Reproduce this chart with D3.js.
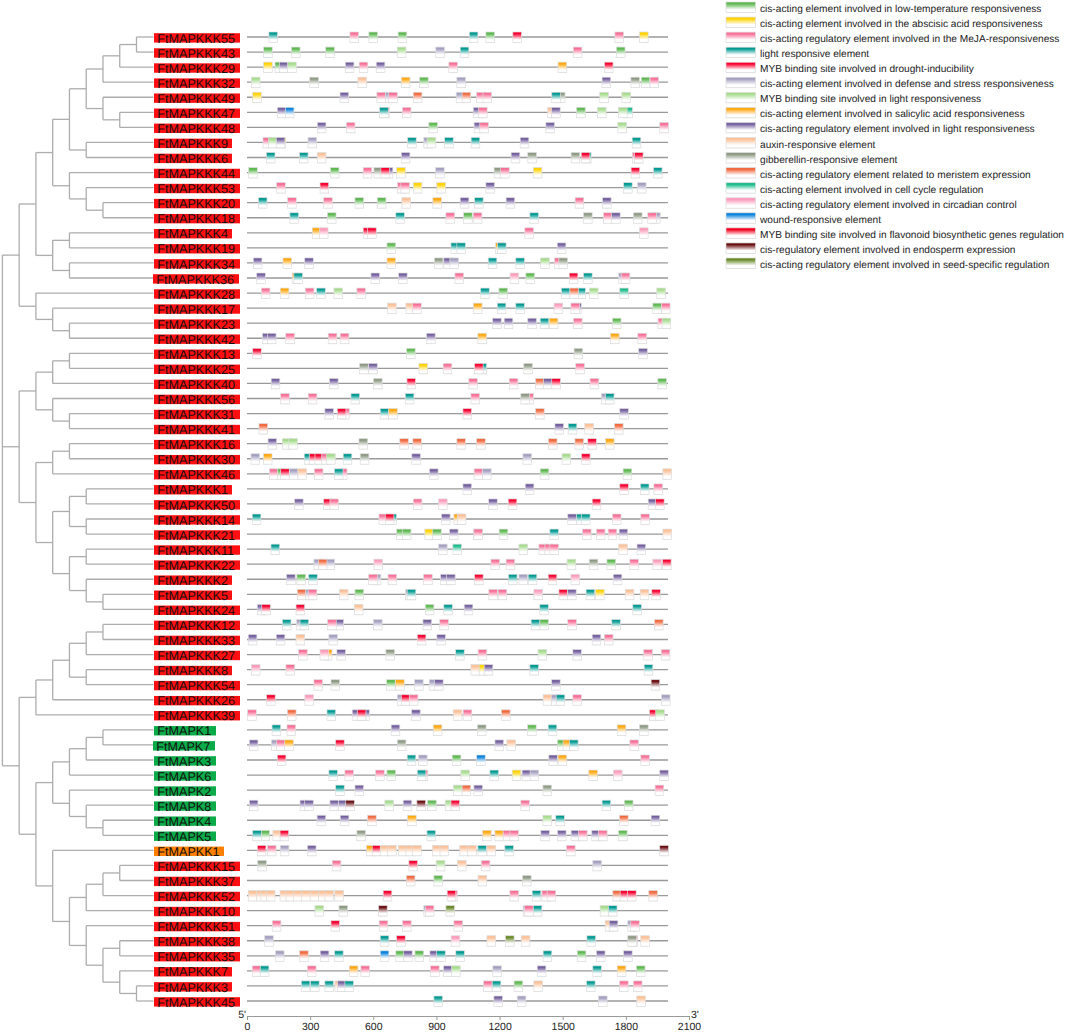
<!DOCTYPE html>
<html>
<head>
<meta charset="utf-8">
<script src="https://cdn.jsdelivr.net/npm/d3@7"></script>
<style>
  html, body { margin: 0; padding: 0; background: #fff; }
  svg { display: block; font-family: "Liberation Sans", Arial, sans-serif; text-rendering: geometricPrecision; }
</style>
</head>
<body>
<svg id="chart" width="1065" height="1032"></svg>
<script>
var elementNames = [
  "cis-acting element involved in low-temperature responsiveness",
  "cis-acting element involved in the abscisic acid responsiveness",
  "cis-acting regulatory element involved in the MeJA-responsiveness",
  "light responsive element",
  "MYB binding site involved in drought-inducibility",
  "cis-acting element involved in defense and stress responsiveness",
  "MYB binding site involved in light responsiveness",
  "cis-acting element involved in salicylic acid responsiveness",
  "cis-acting regulatory element involved in light responsiveness",
  "auxin-responsive element",
  "gibberellin-responsive element",
  "cis-acting regulatory element related to meristem expression",
  "cis-acting element involved in cell cycle regulation",
  "cis-acting regulatory element involved in circadian control",
  "wound-responsive element",
  "MYB binding site involved in flavonoid biosynthetic genes regulation",
  "cis-regulatory element involved in endosperm expression",
  "cis-acting regulatory element involved in seed-specific regulation"
];
var elementColors = ["#5cb84f", "#ffd200", "#f86f97", "#009a92", "#f7002f", "#a39fc0", "#a5dc8c", "#ffa70f", "#75609f",
  "#fcc097", "#8e9a84", "#f1693f", "#1cba8a", "#fc9bba", "#0a82dc", "#f2001c", "#6a0f12", "#6a8a2a"];

// tree topology, rows come out in the same order as genes
var tree = [
  [[[[[[[["FtMAPKKK55", "FtMAPKKK43"], "FtMAPKKK29"], "FtMAPKKK32"],
       ["FtMAPKKK49", ["FtMAPKKK47", "FtMAPKKK48"]]],
      ["FtMAPKKK9", "FtMAPKKK6"]],
     ["FtMAPKKK44", ["FtMAPKKK53", ["FtMAPKKK20", "FtMAPKKK18"]]]],
    [["FtMAPKKK4", "FtMAPKKK19"], ["FtMAPKKK34", "FtMAPKKK36"]]],
   ["FtMAPKKK28", ["FtMAPKKK17", ["FtMAPKKK23", "FtMAPKKK42"]]]],
  [[[["FtMAPKKK13", "FtMAPKKK25"], "FtMAPKKK40"],
    ["FtMAPKKK56", ["FtMAPKKK31", "FtMAPKKK41"]]],
   [[["FtMAPKKK16", "FtMAPKKK30"], "FtMAPKKK46"],
    [[["FtMAPKKK1", "FtMAPKKK50"], ["FtMAPKKK14", "FtMAPKKK21"]],
     [["FtMAPKKK11", "FtMAPKKK22"], ["FtMAPKKK2", ["FtMAPKKK5", "FtMAPKKK24"]]]]]],
  [[[[[["FtMAPKKK12", "FtMAPKKK33"], "FtMAPKKK27"], ["FtMAPKKK8", "FtMAPKKK54"]], "FtMAPKKK26"], "FtMAPKKK39"],
   [[[[["FtMAPK1", "FtMAPK7"], "FtMAPK3"], "FtMAPK6"],
     ["FtMAPK2", ["FtMAPK8", ["FtMAPK4", "FtMAPK5"]]]],
    ["FtMAPKK1",
     [[[["FtMAPKKK15", "FtMAPKKK37"], "FtMAPKKK52"], "FtMAPKKK10"],
      ["FtMAPKKK51", [["FtMAPKKK38", "FtMAPKKK35"], ["FtMAPKKK7", ["FtMAPKKK3", "FtMAPKKK45"]]]]]]]]
];

var familyPrefixes = ["FtMAPKKK", "FtMAPKK", "FtMAPK"];
var familyColors = ["#ff0f12", "#ff8000", "#0aab48"];

// one list per gene, [start in bp, element index], later entries sit on top
var motifs = [
  [[104,3],[489,2],[579,0],[718,0],[1056,3],[1135,0],[1263,4],[1748,2],[1865,1]],
  [[79,0],[211,0],[374,0],[714,6],[897,5],[1013,3],[1550,2],[1755,0]],
  [[79,1],[133,0],[154,8],[193,6],[467,8],[533,2],[614,8],[959,2],[1478,7],[1698,4]],
  [[21,6],[298,10],[527,9],[733,7],[820,0],[997,5],[1687,8],[1824,10],[1873,0],[1915,2]],
  [[27,1],[442,8],[617,2],[658,5],[673,2],[790,11],[994,5],[1022,11],[1091,2],[1121,2],[1470,10],[1448,3],[1676,6],[1781,6]],
  [[144,8],[182,14],[635,2],[630,3],[738,2],[1075,8],[1100,2],[1429,9],[1447,8],[1566,0],[1665,6],[1790,12],[1765,6]],
  [[334,8],[472,2],[864,0],[1079,8],[1106,2],[1420,8],[1762,6],[1961,2]],
  [[76,2],[143,1],[103,6],[139,8],[290,5],[763,3],[840,5],[856,6],[939,3],[1065,3],[1298,8],[1830,3]],
  [[92,3],[249,3],[334,9],[733,8],[1255,8],[1334,10],[1540,10],[1594,3],[1588,4],[1831,2],[1841,4]],
  [[8,0],[396,0],[552,2],[603,10],[652,8],[636,4],[711,1],[896,5],[1174,10],[1205,2],[1360,1],[1825,4],[1931,3]],
  [[141,2],[347,4],[715,2],[731,2],[790,1],[902,1],[1135,8],[1789,3],[1855,5]],
  [[54,3],[193,2],[364,2],[513,0],[619,0],[736,9],[883,7],[1013,8],[1081,3],[1231,8],[1559,2],[1689,8]],
  [[204,3],[382,0],[707,3],[945,2],[1029,0],[1075,2],[1344,3],[1599,10],[1694,2],[1732,8],[1836,10],[1922,5],[1904,2]],
  [[310,7],[344,13],[552,4],[573,4],[1320,2],[1865,13]],
  [[665,0],[969,3],[997,3],[1181,7],[1190,3],[1474,8]],
  [[30,8],[171,7],[274,8],[665,7],[890,10],[935,8],[964,5],[1146,3],[1277,3],[1395,6],[1461,2],[1482,10]],
  [[46,8],[215,7],[223,3],[589,8],[720,8],[988,2],[1250,13],[1325,0],[1531,4],[1599,3],[1766,5],[1778,2]],
  [[68,2],[158,7],[277,2],[331,3],[413,6],[522,2],[1110,3],[1197,0],[1494,3],[1567,3],[1534,11],[1627,6],[1771,12],[1947,6]],
  [[668,9],[755,9],[787,2],[1076,7],[1189,3],[1277,3],[1459,13],[1547,8],[1539,2],[1928,0],[1969,2]],
  [[1167,8],[1222,8],[1334,8],[1393,3],[1436,7],[1551,2],[1736,0],[1953,2],[1972,6]],
  [[73,8],[97,8],[184,2],[386,2],[443,2],[853,8],[1097,7],[1727,7],[1857,2]],
  [[27,4],[758,0],[1554,10],[1861,8]],
  [[535,10],[578,8],[817,1],[932,2],[1097,3],[1081,4],[1315,10],[1562,2]],
  [[115,8],[392,8],[601,10],[760,4],[1054,2],[1246,2],[1371,11],[1409,8],[1448,4],[1630,2],[1952,0]],
  [[160,2],[291,2],[494,3],[752,3],[1064,2],[1320,2],[1301,10],[1684,5],[1703,3]],
  [[370,8],[445,2],[429,4],[633,3],[673,7],[1026,4],[1371,11],[1771,8]],
  [[57,11],[1463,8],[1526,3],[1605,9],[1746,11]],
  [[100,8],[168,6],[198,6],[532,10],[726,11],[788,11],[997,11],[1091,11],[1432,11],[1558,11],[1619,4],[1703,7]],
  [[19,5],[78,7],[272,3],[296,4],[323,4],[355,2],[378,6],[457,3],[538,10],[783,8],[1311,5],[1497,6],[1589,4]],
  [[106,2],[146,0],[160,4],[201,5],[242,9],[320,2],[434,2],[415,3],[867,8],[1079,2],[1119,5],[1393,0],[1787,0],[1976,9]],
  [[1026,8],[1322,8],[1771,4],[1869,3],[1933,2]],
  [[226,8],[364,4],[394,2],[790,2],[910,13],[1148,8],[1241,4],[1640,4],[1906,8],[1941,4]],
  [[25,3],[627,2],[669,3],[657,4],[924,8],[983,7],[999,9],[1524,8],[1565,3],[1589,3],[1736,2],[1871,2]],
  [[711,0],[738,0],[845,1],[882,0],[962,8],[1076,5],[1078,2],[1198,0],[1439,3],[1594,2],[1660,2],[1716,2],[1768,8],[1976,9]],
  [[114,3],[910,5],[978,12],[1292,6],[1387,2],[1415,2],[1439,2],[1766,9],[1853,8]],
  [[318,5],[375,5],[339,11],[603,13],[1159,2],[1231,2],[1521,6],[1626,10],[1710,0],[1819,2],[1928,13],[1974,4]],
  [[188,8],[237,0],[293,3],[595,5],[578,2],[670,2],[839,2],[920,8],[948,8],[1081,4],[1242,3],[1292,5],[1336,3],[1431,4],[1539,13],[1740,8]],
  [[239,11],[279,5],[291,2],[439,9],[513,0],[753,5],[761,3],[1149,2],[1193,2],[1363,13],[1482,4],[1523,8],[1611,3],[1656,1],[1797,9],[1868,9],[1923,4]],
  [[49,8],[70,4],[233,4],[510,9],[847,0],[935,3],[1032,8],[1391,3],[1833,3]],
  [[168,3],[236,5],[252,3],[418,8],[383,2],[601,5],[836,8],[916,2],[1391,0],[1350,3],[1524,2],[1733,3],[1936,11]],
  [[6,8],[139,8],[233,9],[389,5],[809,4],[902,8],[1640,8],[1698,2]],
  [[245,2],[363,7],[347,13],[427,8],[660,10],[991,3],[1098,2],[1383,6],[1548,8],[1885,2],[1968,2]],
  [[21,13],[185,2],[1064,9],[1103,1],[1127,8],[1344,3],[1887,3]],
  [[318,2],[399,10],[663,0],[706,7],[796,5],[866,5],[891,8],[1447,8],[1920,16]],
  [[93,4],[275,13],[714,5],[733,4],[771,2],[1407,9],[1447,5],[1469,3],[1548,2],[1969,5]],
  [[3,2],[192,11],[380,3],[500,8],[541,8],[524,4],[782,8],[980,9],[1027,2],[1209,11],[1912,4],[1942,6]],
  [[119,3],[190,2],[685,8],[885,7],[1095,10],[1333,0],[1431,3],[1759,7],[1865,10]],
  [[11,8],[116,5],[141,2],[179,7],[421,4],[714,10],[1178,8],[1235,9],[1475,0],[1502,7],[1532,3],[1819,2]],
  [[144,4],[761,3],[815,5],[975,0],[1091,14],[1434,8],[1478,7],[1871,2]],
  [[389,3],[465,2],[611,2],[665,0],[818,2],[809,3],[1016,6],[1154,3],[1260,1],[1307,8],[1345,5],[1624,7],[1741,13],[1961,8]],
  [[421,3],[513,8],[981,6],[1022,11],[1078,8],[1406,10],[1939,2]],
  [[11,8],[252,8],[274,8],[394,8],[434,8],[469,16],[655,6],[742,8],[807,16],[858,0],[942,6],[969,4],[1301,2],[1687,3],[1793,0]],
  [[333,8],[443,8],[573,11],[763,7],[1406,6],[1467,3],[1770,11],[1920,8]],
  [[66,0],[27,3],[123,9],[157,4],[522,10],[855,3],[1119,7],[1178,7],[1217,2],[1249,2],[1396,8],[1475,8],[1540,8],[1575,2],[1638,8],[1670,2],[1765,0]],
  [[49,4],[97,2],[158,5],[287,8],[568,7],[595,4],[633,9],[668,9],[719,9],[755,9],[787,9],[882,9],[917,9],[1011,9],[1048,9],[1097,3],[1140,9],[1225,3],[1518,2],[1961,16]],
  [[51,10],[405,2],[769,4],[899,6],[1000,9],[1113,2],[1643,5]],
  [[757,11],[888,0],[1098,9],[1309,10]],
  [[6,9],[46,9],[66,9],[92,9],[157,9],[185,9],[222,9],[260,9],[300,9],[340,9],[370,9],[417,9],[647,4],[958,2],[951,4],[1249,2],[1355,3],[1401,2],[1426,2],[1738,11],[1773,4],[1808,4],[1909,11]],
  [[323,6],[437,10],[625,16],[840,5],[847,2],[945,17],[1312,5],[1319,2],[1360,3],[1678,6],[1717,3]],
  [[120,2],[399,4],[628,2],[739,2],[983,2],[1702,9],[1721,8],[1809,5],[1823,2]],
  [[84,5],[633,3],[711,4],[970,13],[1140,9],[1228,17],[1303,9],[1615,3],[1815,2],[1809,10],[1871,9]],
  [[135,5],[250,11],[348,8],[416,3],[633,14],[707,0],[744,8],[798,0],[869,8],[901,3],[992,3],[1407,3],[1569,0],[1660,8],[1789,8]],
  [[25,2],[63,3],[287,2],[486,7],[541,2],[872,2],[934,8],[972,6],[1168,5],[1379,8],[1643,3],[1759,7],[1850,0]],
  [[258,3],[302,3],[370,3],[418,9],[431,8],[465,3],[1124,2],[1165,3],[1269,0],[1363,9],[1613,3],[1770,2],[1836,2]],
  [[888,3],[1173,8],[1284,5],[1670,5],[1852,9]]
];

var geneLength = 2000;
var axisTicks = [0, 300, 600, 900, 1200, 1500, 1800, 2100];
var motifLength = 41;
var shiftedLabels = ["FtMAPKKK36", "FtMAPK7"];

var svg = d3.select("#chart");
var defs = svg.append("defs");

var bp = d3.scaleLinear().domain([0, 2100]).range([247, 689]);
var treeX = d3.scaleLinear().domain([0, 8]).range([2.4, 136.5]);
var leafEnd = 153.5;

// gradient per element, colour at the top fading to white
elementColors.forEach(function(c, i) {
  var g = defs.append("linearGradient")
    .attr("id", "el" + i)
    .attr("x1", 0).attr("y1", 0).attr("x2", 0).attr("y2", 1);
  g.append("stop").attr("offset", 0).attr("stop-color", c);
  g.append("stop").attr("offset", 0.16).attr("stop-color", c);
  g.append("stop").attr("offset", 0.72).attr("stop-color", "#fff");
  g.append("stop").attr("offset", 0.92).attr("stop-color", "#fff");
  g.append("stop").attr("offset", 1).attr("stop-color", "#e6e6e6");
});

function toHierarchy(node) {
  return Array.isArray(node) ? {children: node.map(toHierarchy)} : {name: node};
}

var root = d3.hierarchy(toHierarchy(tree));
var leaves = root.leaves();
var genes = leaves.map(function(d) { return d.data.name; });

var rowY = d3.scaleLinear().domain([0, genes.length - 1]).range([37, 1001]);

leaves.forEach(function(d, i) { d.py = rowY(i); });
root.eachAfter(function(d) {
  if (d.children) {
    d.py = (d.children[0].py + d.children[d.children.length - 1].py) / 2;
  }
});

var treeLines = svg.append("g")
  .attr("fill", "none")
  .attr("stroke", "#adadad")
  .attr("stroke-width", 1.3);

root.descendants().forEach(function(d) {
  var x = treeX(d.depth);
  if (d.children) {
    var top = d.children[0].py;
    var bottom = d.children[d.children.length - 1].py;
    treeLines.append("line").attr("x1", x).attr("x2", x).attr("y1", top).attr("y2", bottom);
    d.children.forEach(function(c) {
      var end = c.children ? treeX(c.depth) : leafEnd;
      treeLines.append("line").attr("x1", x).attr("x2", end).attr("y1", c.py).attr("y2", c.py);
    });
  }
});

// gene labels
var labels = svg.append("g").selectAll("g")
  .data(genes)
  .enter().append("g")
  .attr("transform", function(d, i) {
    var dx = shiftedLabels.indexOf(d) >= 0 ? -1 : 0;
    return "translate(" + (154 + dx) + "," + rowY(i) + ")";
  });

labels.append("rect")
  .attr("y", -3.8)
  .attr("height", 9.4)
  .attr("width", function(d) { return d.length * 8 + 6; })
  .attr("fill", function(d) {
    var f = familyPrefixes.findIndex(function(p) { return d.indexOf(p) === 0; });
    return familyColors[f];
  });

labels.append("text")
  .attr("x", 3.3)
  .attr("y", 5.6)
  .attr("font-size", 12.6)
  .attr("fill", "#141010")
  .text(function(d) { return d; });

// gene bodies and elements
var rows = svg.append("g").selectAll("g")
  .data(genes)
  .enter().append("g")
  .attr("transform", function(d, i) { return "translate(0," + rowY(i) + ")"; });

rows.append("line")
  .attr("x1", bp(0))
  .attr("x2", bp(geneLength))
  .attr("stroke", "#999")
  .attr("stroke-width", 1.3);

rows.selectAll("rect")
  .data(function(d, i) { return motifs[i]; })
  .enter().append("rect")
  .attr("x", function(m) { return bp(m[0]); })
  .attr("y", -5)
  .attr("width", bp(motifLength) - bp(0))
  .attr("height", 10.5)
  .attr("fill", function(m) { return "url(#el" + m[1] + ")"; })
  .attr("stroke", "#dcdcdc")
  .attr("stroke-width", 0.7);

// axis
var axis = svg.append("g")
  .attr("transform", "translate(0,1016)")
  .call(d3.axisBottom(bp).tickValues(axisTicks).tickSize(4).tickPadding(3).tickFormat(d3.format("d")));

axis.select(".domain").attr("stroke", "#999").attr("stroke-width", 1);
axis.selectAll(".tick line").attr("stroke", "#999");
axis.selectAll("text").attr("font-size", 10.5).attr("font-family", "Liberation Sans, Arial, sans-serif").attr("fill", "#222");

svg.append("text").attr("x", 246).attr("y", 1018).attr("text-anchor", "end")
  .attr("font-size", 10.5).attr("fill", "#222").text("5'");
svg.append("text").attr("x", 691).attr("y", 1018)
  .attr("font-size", 10.5).attr("fill", "#222").text("3'");

// legend
var legendY = d3.scaleLinear().domain([0, elementNames.length - 1]).range([2, 258]);
var legend = svg.append("g").selectAll("g")
  .data(elementNames)
  .enter().append("g")
  .attr("transform", function(d, i) { return "translate(726," + legendY(i) + ")"; });

legend.append("rect")
  .attr("width", 29.5)
  .attr("height", 10.5)
  .attr("fill", function(d, i) { return "url(#el" + i + ")"; })
  .attr("stroke", "#dcdcdc")
  .attr("stroke-width", 0.7);

legend.append("text")
  .attr("x", 34)
  .attr("y", 10)
  .attr("font-size", 10.15)
  .attr("fill", "#222")
  .text(function(d) { return d; });
</script>
</body>
</html>
